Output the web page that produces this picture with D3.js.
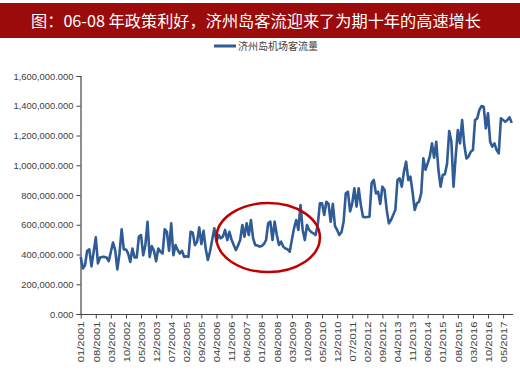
<!DOCTYPE html>
<html><head><meta charset="utf-8">
<script src="https://cdn.jsdelivr.net/npm/d3@7/dist/d3.min.js"></script>
<style>
html,body{margin:0;padding:0;background:#fff;}
svg{display:block;}
</style></head>
<body>
<svg id="chart" width="520" height="372"></svg>
<script>
const titleText = "图：06-08 年政策利好，济州岛客流迎来了为期十年的高速增长";
const seriesName = "济州岛机场客流量";
// monthly values (thousands), 01/2001 .. 09/2017
const values = [
384,306,328,425,434,320,418,515,340,380,384,384,
380,355,418,480,430,300,407,570,434,434,407,350,
440,380,380,520,530,395,463,620,384,456,425,355,
440,418,407,570,553,425,609,395,463,430,407,425,
384,388,384,553,546,463,485,582,470,560,440,363,
420,497,576,486,531,509,520,565,497,553,500,464,
430,460,497,598,520,610,531,632,509,464,460,453,
457,470,497,610,621,497,621,531,464,486,453,440,
435,419,500,576,632,565,733,565,497,598,565,550,
542,531,600,744,744,666,755,740,620,740,590,565,
531,550,620,811,822,690,744,845,722,845,733,654,
650,652,654,880,901,811,822,740,856,834,700,609,
632,665,700,901,912,856,957,1024,901,923,820,699,
744,755,811,1047,970,1013,1058,1147,1050,1158,968,856,
934,940,1010,1230,1160,856,1058,1237,1147,1304,1136,1045,
1060,1091,1102,1304,1315,1372,1398,1394,1248,1350,1158,1125,
1147,1102,1080,1315,1304,1293,1304,1322,1285
];
const tickLabels = ["01/2001","08/2001","03/2002","10/2002","05/2003","12/2003","07/2004","02/2005","09/2005","04/2006","11/2006","06/2007","01/2008","08/2008","03/2009","10/2009","05/2010","12/2010","07/2011","02/2012","09/2012","04/2013","11/2013","06/2014","01/2015","08/2015","03/2016","10/2016","05/2017"];
const tickStep = 7;
const yTicks = [0,200,400,600,800,1000,1200,1400,1600];
// highlight ellipse (index range and value range)
const highlight = {i0: 63, i1: 111, v0: 282, v1: 746};

const svg = d3.select("#chart");
const font = "'Liberation Sans', Arial, sans-serif";

// title bar
svg.append("rect").attr("x",0).attr("y",3).attr("width",520).attr("height",35).attr("fill","#9b0b0b");
svg.append("text").attr("x",256).attr("y",27).attr("text-anchor","middle")
  .attr("fill","#fff").attr("font-family","'Noto Sans CJK SC', sans-serif").attr("font-size",16)
  .attr("textLength",450).attr("lengthAdjust","spacingAndGlyphs")
  .text(titleText);

const x = d3.scaleLinear().domain([0, values.length-1]).range([80.7, 511.7]);
const y = d3.scaleLinear().domain([0,1600]).range([314, 76]);

// y axis
const yAxis = d3.axisLeft(y).tickValues(yTicks).tickSize(4).tickPadding(3)
  .tickFormat(d => d3.format(",.3f")(d*1000));
const gy = svg.append("g").attr("transform","translate(80.5,0)").call(yAxis);
gy.select(".domain").attr("stroke","#444").attr("stroke-width",1.2);
gy.selectAll(".tick line").attr("stroke","#444");
gy.selectAll("text").attr("font-family",font).attr("font-size",9.4).attr("fill","#404040");

// x axis
const xt = tickLabels.map((_,k)=>k*tickStep);
const xAxis = d3.axisBottom(x).tickValues(xt).tickSize(4).tickSizeOuter(0).tickFormat((d,k)=>tickLabels[k]);
const gx = svg.append("g").attr("transform","translate(0,314.5)").call(xAxis);
gx.select(".domain").attr("stroke","#444").attr("stroke-width",1.2).attr("d","M80.7,0H513");
gx.selectAll(".tick line").attr("stroke","#444");
gx.selectAll("text")
  .attr("font-family",font).attr("font-size",11.3).attr("fill","#404040")
  .attr("text-anchor","end").attr("dy","0.35em").attr("y",0)
  .attr("transform","translate(0,7) rotate(-90) scale(1,0.82)");

// line
const line = d3.line().x((d,i)=>x(i)).y(d=>y(d)).curve(d3.curveLinear);
svg.append("path").datum(values).attr("d",line).attr("fill","none")
  .attr("stroke","#2f5b96").attr("stroke-width",2.6).attr("stroke-linejoin","round");

// highlight ellipse
const cx = (x(highlight.i0)+x(highlight.i1))/2, cy=(y(highlight.v0)+y(highlight.v1))/2;
svg.append("ellipse").attr("cx",cx).attr("cy",cy)
  .attr("rx",(x(highlight.i1)-x(highlight.i0))/2).attr("ry",(y(highlight.v0)-y(highlight.v1))/2)
  .attr("fill","none").attr("stroke","#c00000").attr("stroke-width",2.5);

// legend
svg.append("line").attr("x1",214).attr("x2",236).attr("y1",46).attr("y2",46)
  .attr("stroke","#2f5b96").attr("stroke-width",3);
svg.append("text").attr("x",238).attr("y",49.5).attr("font-family","'Noto Sans CJK SC', sans-serif")
  .attr("font-size",10).attr("fill","#404040").text(seriesName);
</script>
</body></html>
